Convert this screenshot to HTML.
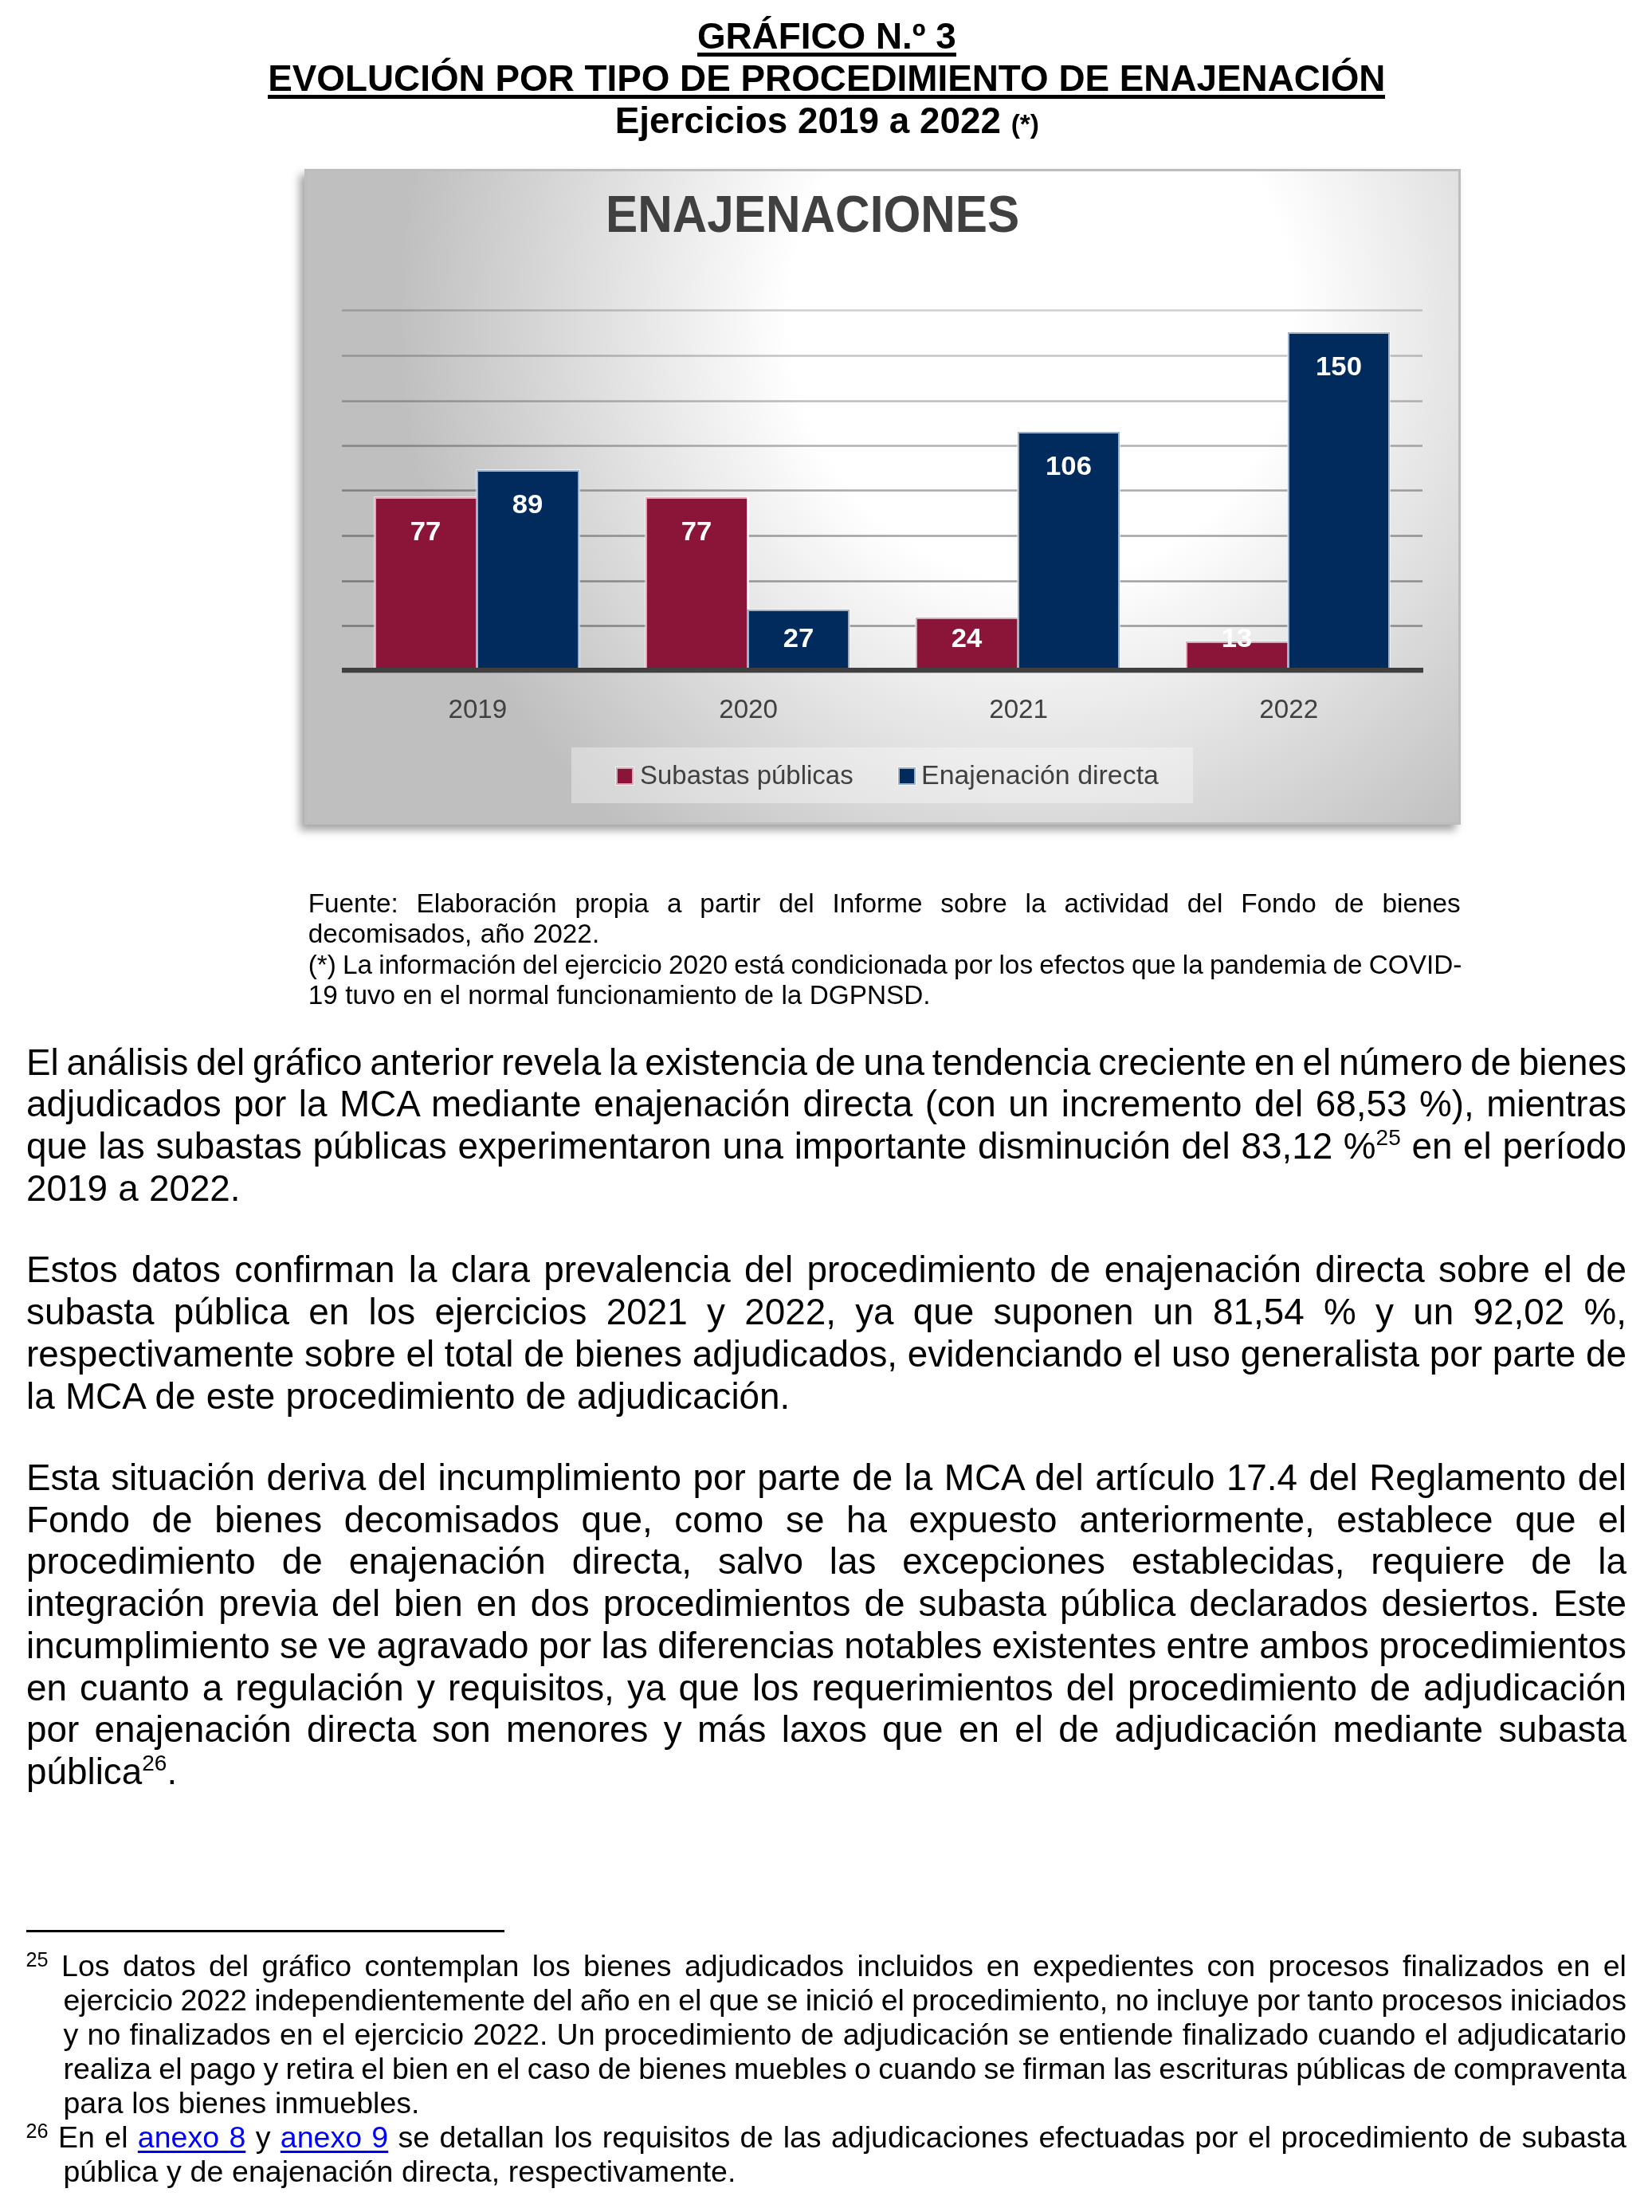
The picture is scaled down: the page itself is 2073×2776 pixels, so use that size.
<!DOCTYPE html>
<html lang="es"><head><meta charset="utf-8"><title>Gráfico 3</title>
<style>
*{margin:0;padding:0;box-sizing:border-box}
html,body{width:2073px;height:2776px;background:#fff;overflow:hidden}
body{position:relative;font-family:"Liberation Sans", sans-serif;color:#000}
.l{position:absolute;white-space:nowrap;line-height:1;height:1em;display:block}
.b{font-weight:bold}
.sp{font-size:28px;position:relative;top:-17px;line-height:0}
.sf{font-size:25.2px;position:relative;top:-12px;line-height:0}
.a{color:#0000ff;text-decoration:underline;text-decoration-thickness:.07em;text-underline-offset:.11em;text-decoration-skip-ink:none}
.ul{position:absolute;background:#000}
#pg{position:absolute;left:0;top:0;width:2073px;height:2776px;will-change:transform}
#ch{position:absolute;left:382px;top:212px;width:1451px;height:823px;border:3px solid #bdbdbd;
background:radial-gradient(810px 849px at 922.5px 183px,#fff 0,#fff 39%,#bfbfbf 100%);
box-shadow:-6.5px 7px 10px rgba(0,0,0,.36)}
.g{position:absolute;left:429px;width:1356px;height:3px}
#ax{position:absolute;left:429px;width:1357px;top:838px;height:6px;background:#404040;box-shadow:0 1px 0 rgba(64,64,64,.3)}
.r,.n{position:absolute;border-style:solid;border-width:2px 2px 0 2px;box-shadow:0 0 0 1px rgba(255,255,255,.6)}
.r{background:#8a1538;border-color:#dba8b7;border-right-width:0}
.n{background:#002b5c;border-color:#9fb1c7}
.v{position:absolute;font-weight:bold;color:#fff;font-size:33px;line-height:1;height:1em;width:140px;text-align:center;white-space:nowrap;transform:scaleX(1.05)}
.y{position:absolute;color:#404040;font-size:33.2px;line-height:1;height:1em;width:200px;text-align:center;white-space:nowrap}
#lg{position:absolute;left:717.4px;top:938.4px;width:779.8px;height:70px;background:rgba(255,255,255,.36)}
.m{position:absolute;top:963px;width:22px;height:22px;border:2px solid;box-shadow:0 0 0 1px rgba(255,255,255,.6)}
.t{position:absolute;color:#404040;font-size:33.4px;line-height:1;height:1em;white-space:nowrap;transform-origin:0 50%}
#tt{position:absolute;color:#404040;font-weight:bold;font-size:65.4px;line-height:1;height:1em;white-space:nowrap;transform-origin:0 50%}
</style></head>
<body>
<div id="pg">
<div id="ch"></div>
<div class="g" style="top:388px;background:linear-gradient(rgba(0,0,0,0.095),rgba(0,0,0,0.190) 33%,rgba(0,0,0,0.190) 67%,rgba(0,0,0,0.114))"></div>
<div class="g" style="top:445px;background:linear-gradient(rgba(0,0,0,0.110),rgba(0,0,0,0.220) 33%,rgba(0,0,0,0.220) 67%,rgba(0,0,0,0.132))"></div>
<div class="g" style="top:502px;background:linear-gradient(rgba(0,0,0,0.130),rgba(0,0,0,0.260) 33%,rgba(0,0,0,0.260) 67%,rgba(0,0,0,0.156))"></div>
<div class="g" style="top:558px;background:linear-gradient(rgba(0,0,0,0.150),rgba(0,0,0,0.300) 33%,rgba(0,0,0,0.300) 67%,rgba(0,0,0,0.180))"></div>
<div class="g" style="top:614px;background:linear-gradient(rgba(0,0,0,0.165),rgba(0,0,0,0.330) 33%,rgba(0,0,0,0.330) 67%,rgba(0,0,0,0.198))"></div>
<div class="g" style="top:671px;background:linear-gradient(rgba(0,0,0,0.175),rgba(0,0,0,0.350) 33%,rgba(0,0,0,0.350) 67%,rgba(0,0,0,0.210))"></div>
<div class="g" style="top:728px;background:linear-gradient(rgba(0,0,0,0.180),rgba(0,0,0,0.360) 33%,rgba(0,0,0,0.360) 67%,rgba(0,0,0,0.216))"></div>
<div class="g" style="top:784px;background:linear-gradient(rgba(0,0,0,0.185),rgba(0,0,0,0.370) 33%,rgba(0,0,0,0.370) 67%,rgba(0,0,0,0.222))"></div>
<div class="r" style="left:470px;top:624px;width:128px;height:215px"></div>
<div class="v" style="left:464.25px;top:650px">77</div>
<div class="n" style="left:598px;top:590px;width:129px;height:249px"></div>
<div class="v" style="left:592.35px;top:616px">89</div>
<div class="y" style="left:499.35px;top:873px">2019</div>
<div class="r" style="left:810px;top:624px;width:128px;height:215px"></div>
<div class="v" style="left:804.00px;top:650px">77</div>
<div class="n" style="left:938px;top:765px;width:128px;height:74px"></div>
<div class="v" style="left:932.10px;top:784px">27</div>
<div style="position:absolute;left:937px;top:623px;width:3px;height:141px;background:rgba(255,255,255,.78)"></div>
<div class="y" style="left:839.10px;top:873px">2020</div>
<div class="r" style="left:1149px;top:775px;width:128px;height:64px"></div>
<div class="v" style="left:1143.00px;top:784px">24</div>
<div class="n" style="left:1277px;top:542px;width:128px;height:297px"></div>
<div class="v" style="left:1271.10px;top:568px">106</div>
<div class="y" style="left:1178.10px;top:873px">2021</div>
<div class="r" style="left:1488px;top:805px;width:128px;height:34px"></div>
<div class="v" style="left:1482.10px;top:784px">13</div>
<div class="n" style="left:1616px;top:417px;width:128px;height:422px"></div>
<div class="v" style="left:1610.20px;top:443px">150</div>
<div class="y" style="left:1517.20px;top:873px">2022</div>
<div id="ax"></div>
<div id="lg"></div>
<div class="m" style="left:773px;background:#8a1538;border-color:#dba8b7"></div>
<div class="m" style="left:1127px;background:#002b5c;border-color:#9fb1c7"></div>
<div class="t" id="t1" style="transform:scaleX(.9875);left:802.9px;top:956px">Subastas públicas</div>
<div class="t" id="t2" style="transform:scaleX(1.016);left:1156.2px;top:956px">Enajenación directa</div>
<div id="tt" style="transform:scaleX(.922);left:759.8px;top:236px">ENAJENACIONES</div>
<div style="position:absolute;left:33px;top:2422px;width:600px;height:3px;background:#000"></div>
<div id="L0" class="l b" style="font-size:45.83px;top:23px;left:874.89px;">GRÁFICO N.º 3</div>
<div class="ul" style="left:874.89px;top:66.00px;width:324.83px;height:4.9px"></div>
<div id="L1" class="l b" style="font-size:45.83px;top:76px;left:336.21px;">EVOLUCIÓN POR TIPO DE PROCEDIMIENTO DE ENAJENACIÓN</div>
<div class="ul" style="left:336.21px;top:119.00px;width:1402.17px;height:4.9px"></div>
<div id="L2" class="l b" style="font-size:45.83px;top:129px;left:771.78px;">Ejercicios 2019 a 2022 <span style="font-size:33.33px">(*)</span></div>
<div id="L3" class="l" style="font-size:33.33px;top:1117px;left:386.70px;word-spacing:13.608px;">Fuente: Elaboración propia a partir del Informe sobre la actividad del Fondo de bienes</div>
<div id="L4" class="l" style="font-size:33.33px;top:1155px;left:386.70px;word-spacing:1.150px;">decomisados, año 2022.</div>
<div id="L5" class="l" style="font-size:33.33px;top:1194px;left:386.70px;word-spacing:-1.057px;">(*) La información del ejercicio 2020 está condicionada por los efectos que la pandemia de COVID-</div>
<div id="L6" class="l" style="font-size:33.33px;top:1232px;left:386.70px;word-spacing:0.125px;">19 tuvo en el normal funcionamiento de la DGPNSD.</div>
<div id="L7" class="l" style="font-size:45.83px;top:1311px;left:33.00px;word-spacing:-2.998px;">El análisis del gráfico anterior revela la existencia de una tendencia creciente en el número de bienes</div>
<div id="L8" class="l" style="font-size:45.83px;top:1363px;left:33.00px;word-spacing:2.782px;">adjudicados por la MCA mediante enajenación directa (con un incremento del 68,53 %), mientras</div>
<div id="L9" class="l" style="font-size:45.83px;top:1416px;left:33.00px;word-spacing:0.965px;">que las subastas públicas experimentaron una importante disminución del 83,12 %<span class="sp">25</span> en el período</div>
<div id="L10" class="l" style="font-size:45.83px;top:1469px;left:33.00px;word-spacing:0.500px;">2019 a 2022.</div>
<div id="L11" class="l" style="font-size:45.83px;top:1571px;left:33.00px;word-spacing:4.543px;">Estos datos confirman la clara prevalencia del procedimiento de enajenación directa sobre el de</div>
<div id="L12" class="l" style="font-size:45.83px;top:1624px;left:33.00px;word-spacing:11.555px;">subasta pública en los ejercicios 2021 y 2022, ya que suponen un 81,54 % y un 92,02 %,</div>
<div id="L13" class="l" style="font-size:45.83px;top:1677px;left:33.00px;word-spacing:0.026px;">respectivamente sobre el total de bienes adjudicados, evidenciando el uso generalista por parte de</div>
<div id="L14" class="l" style="font-size:45.83px;top:1730px;left:33.00px;word-spacing:0.500px;">la MCA de este procedimiento de adjudicación.</div>
<div id="L15" class="l" style="font-size:45.83px;top:1832px;left:33.00px;word-spacing:1.734px;">Esta situación deriva del incumplimiento por parte de la MCA del artículo 17.4 del Reglamento del</div>
<div id="L16" class="l" style="font-size:45.83px;top:1885px;left:33.00px;word-spacing:14.890px;">Fondo de bienes decomisados que, como se ha expuesto anteriormente, establece que el</div>
<div id="L17" class="l" style="font-size:45.83px;top:1937px;left:33.00px;word-spacing:20.167px;">procedimiento de enajenación directa, salvo las excepciones establecidas, requiere de la</div>
<div id="L18" class="l" style="font-size:45.83px;top:1990px;left:33.00px;word-spacing:4.279px;">integración previa del bien en dos procedimientos de subasta pública declarados desiertos. Este</div>
<div id="L19" class="l" style="font-size:45.83px;top:2043px;left:33.00px;word-spacing:-0.412px;">incumplimiento se ve agravado por las diferencias notables existentes entre ambos procedimientos</div>
<div id="L20" class="l" style="font-size:45.83px;top:2096px;left:33.00px;word-spacing:3.364px;">en cuanto a regulación y requisitos, ya que los requerimientos del procedimiento de adjudicación</div>
<div id="L21" class="l" style="font-size:45.83px;top:2148px;left:33.00px;word-spacing:6.579px;">por enajenación directa son menores y más laxos que en el de adjudicación mediante subasta</div>
<div id="L22" class="l" style="font-size:45.83px;top:2201px;left:33.00px;">pública<span class="sp">26</span>.</div>
<div id="L23" class="l" style="font-size:37.5px;top:2449px;left:32.60px;word-spacing:5.983px;"><span class="sf">25</span> Los datos del gráfico contemplan los bienes adjudicados incluidos en expedientes con procesos finalizados en el</div>
<div id="L24" class="l" style="font-size:37.5px;top:2492px;left:79.50px;word-spacing:-0.999px;">ejercicio 2022 independientemente del año en el que se inició el procedimiento, no incluye por tanto procesos iniciados</div>
<div id="L25" class="l" style="font-size:37.5px;top:2535px;left:79.50px;word-spacing:0.893px;">y no finalizados en el ejercicio 2022. Un procedimiento de adjudicación se entiende finalizado cuando el adjudicatario</div>
<div id="L26" class="l" style="font-size:37.5px;top:2578px;left:79.50px;word-spacing:-1.098px;">realiza el pago y retira el bien en el caso de bienes muebles o cuando se firman las escrituras públicas de compraventa</div>
<div id="L27" class="l" style="font-size:37.5px;top:2621px;left:79.50px;word-spacing:0.267px;">para los bienes inmuebles.</div>
<div id="L28" class="l" style="font-size:37.5px;top:2664px;left:32.60px;word-spacing:1.970px;"><span class="sf">26</span> En el <span class="a">anexo 8</span> y <span class="a">anexo 9</span> se detallan los requisitos de las adjudicaciones efectuadas por el procedimiento de subasta</div>
<div id="L29" class="l" style="font-size:37.5px;top:2707px;left:79.50px;word-spacing:0.340px;">pública y de enajenación directa, respectivamente.</div>
</div>
</body></html>
